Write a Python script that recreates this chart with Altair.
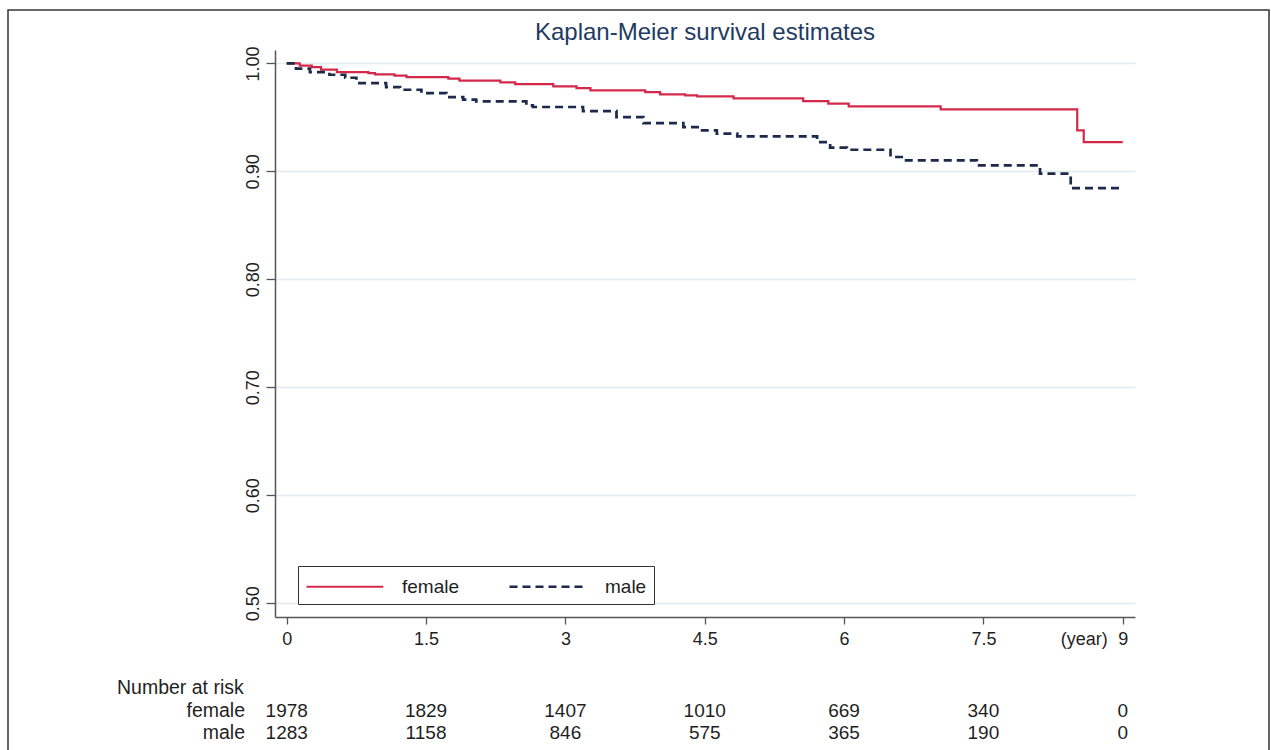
import altair as alt
import pandas as pd

# Kaplan-Meier step estimates
female_t = [0, 0.14, 0.27, 0.37, 0.54, 0.88, 0.95, 1.16, 1.29, 1.74, 1.86, 2.30, 2.46,
            2.87, 3.12, 3.27, 3.86, 4.02, 4.29, 4.42, 4.81, 5.56, 5.83, 6.05, 7.04,
            8.51, 8.58, 9.0]
female_s = [1.0, 0.998, 0.9966, 0.9942, 0.9919, 0.991, 0.9898, 0.9886, 0.9873, 0.9858,
            0.984, 0.9824, 0.9808, 0.9787, 0.9771, 0.975, 0.9734, 0.9713, 0.9704,
            0.9694, 0.9676, 0.9651, 0.9627, 0.9602, 0.9574, 0.938, 0.9271, 0.9271]

male_t = [0, 0.10, 0.25, 0.46, 0.63, 0.75, 1.07, 1.22, 1.45, 1.72, 1.90, 2.04, 2.58,
          2.65, 3.19, 3.55, 3.84, 4.27, 4.45, 4.63, 4.85, 5.71, 5.85, 6.03, 6.50,
          6.64, 7.43, 8.11, 8.44, 9.0]
male_s = [1.0, 0.9951, 0.9919, 0.9895, 0.9867, 0.9818, 0.9781, 0.9756, 0.9725, 0.9688,
          0.9664, 0.9648, 0.9611, 0.9596, 0.9558, 0.9503, 0.9447, 0.941, 0.938,
          0.9349, 0.9324, 0.9271, 0.922, 0.920, 0.9133, 0.9102, 0.9056, 0.8979,
          0.8845, 0.8845]

groups = ["female", "male"]
x_ticks = [0, 1.5, 3, 4.5, 6, 7.5, 9]
y_ticks = [0.5, 0.6, 0.7, 0.8, 0.9, 1.0]
risk_female = [1978, 1829, 1407, 1010, 669, 340, 0]
risk_male = [1283, 1158, 846, 575, 365, 190, 0]
title_text = "Kaplan-Meier survival estimates"

curves = pd.concat([
    pd.DataFrame({"t": female_t, "s": female_s, "group": "female"}),
    pd.DataFrame({"t": male_t, "s": male_s, "group": "male"}),
])
risk = pd.DataFrame({"t": x_ticks, "female": risk_female, "male": risk_male})

FONT = "Liberation Sans"
TXT = "#1f1f1f"
W, H = 860, 567

xscale = alt.Scale(domain=[-0.126, 9.132], nice=False, zero=False)
yscale = alt.Scale(domain=[0.4873, 1.0124], nice=False, zero=False)

leg = alt.Legend(
    title=None, orient="none", legendX=23, legendY=516, direction="horizontal",
    strokeColor="#333333", fillColor="white", padding=7,
    symbolType="M-3.2,0H3.2", symbolSize=576, symbolOffset=26.4,
    symbolStrokeWidth=2.2, labelOffset=43.6, columnPadding=44,
    labelFont=FONT, labelFontSize=19, labelColor=TXT,
)

lines = alt.Chart(curves).mark_line(interpolate="step-after").encode(
    x=alt.X("t:Q", scale=xscale, title=None,
            axis=alt.Axis(values=x_ticks, format="~g", grid=False, tickSize=7,
                          labelPadding=6)),
    y=alt.Y("s:Q", scale=yscale, title=None,
            axis=alt.Axis(values=y_ticks, format=".2f", grid=True, tickSize=9,
                          labelAngle=-90, labelAlign="center", labelBaseline="bottom",
                          labelPadding=4)),
    color=alt.Color("group:N", scale=alt.Scale(domain=groups, range=["#d4284b", "#1c2b4b"]),
                    legend=leg),
    strokeDash=alt.StrokeDash("group:N", scale=alt.Scale(domain=groups, range=[[1, 0], [8, 5]]),
                              legend=leg),
    strokeWidth=alt.StrokeWidth("group:N", scale=alt.Scale(domain=groups, range=[2.2, 2.7]),
                                legend=None),
)

frame = alt.Chart(pd.DataFrame({"a": [0]})).mark_rect(
    filled=False, stroke="#333333", strokeWidth=1.5
).encode(x=alt.value(-267), x2=alt.value(994), y=alt.value(-40), y2=alt.value(712))

title = alt.Chart(pd.DataFrame({"txt": [title_text]})).mark_text(
    align="center", baseline="middle", font=FONT, fontSize=24, color="#1f3a63"
).encode(x=alt.value(W / 2), y=alt.value(-17), text="txt:N")

year_lbl = alt.Chart(pd.DataFrame({"t": [9], "txt": ["(year)"]})).mark_text(
    align="right", baseline="top", dx=-15, font=FONT, fontSize=18, color=TXT
).encode(x=alt.X("t:Q", scale=xscale), y=alt.value(H + 14), text="txt:N")

risk_f = alt.Chart(risk).mark_text(
    align="center", baseline="middle", font=FONT, fontSize=19, color=TXT
).encode(x=alt.X("t:Q", scale=xscale), y=alt.value(661), text="female:Q")

risk_m = alt.Chart(risk).mark_text(
    align="center", baseline="middle", font=FONT, fontSize=19, color=TXT
).encode(x=alt.X("t:Q", scale=xscale), y=alt.value(683), text="male:Q")

hdr = alt.Chart(pd.DataFrame({"txt": ["Number at risk"]})).mark_text(
    align="left", baseline="middle", font=FONT, fontSize=19.5, color=TXT
).encode(x=alt.value(-158), y=alt.value(638), text="txt:N")

rowlab = alt.Chart(pd.DataFrame({"txt": groups, "yy": [661, 683]})).mark_text(
    align="right", baseline="middle", font=FONT, fontSize=19.5, color=TXT
).encode(x=alt.value(-30), y=alt.Y("yy:Q", scale=None), text="txt:N")

chart = alt.layer(frame, lines, title, year_lbl, risk_f, risk_m, hdr, rowlab).properties(
    width=W, height=H,
    background="white",
    padding={"left": 275, "top": 50, "right": 136, "bottom": 133},
    autosize=alt.AutoSizeParams(type="none"),
).configure_view(stroke=None).configure_axis(
    labelFont=FONT, labelFontSize=18, labelColor=TXT,
    domainColor="#555555", domainWidth=1.5, tickColor="#555555", tickWidth=1.3,
    gridColor="#e0ecee", gridWidth=1.5,
)

chart.save("out.html", embed_options={"renderer": "svg", "actions": False})
